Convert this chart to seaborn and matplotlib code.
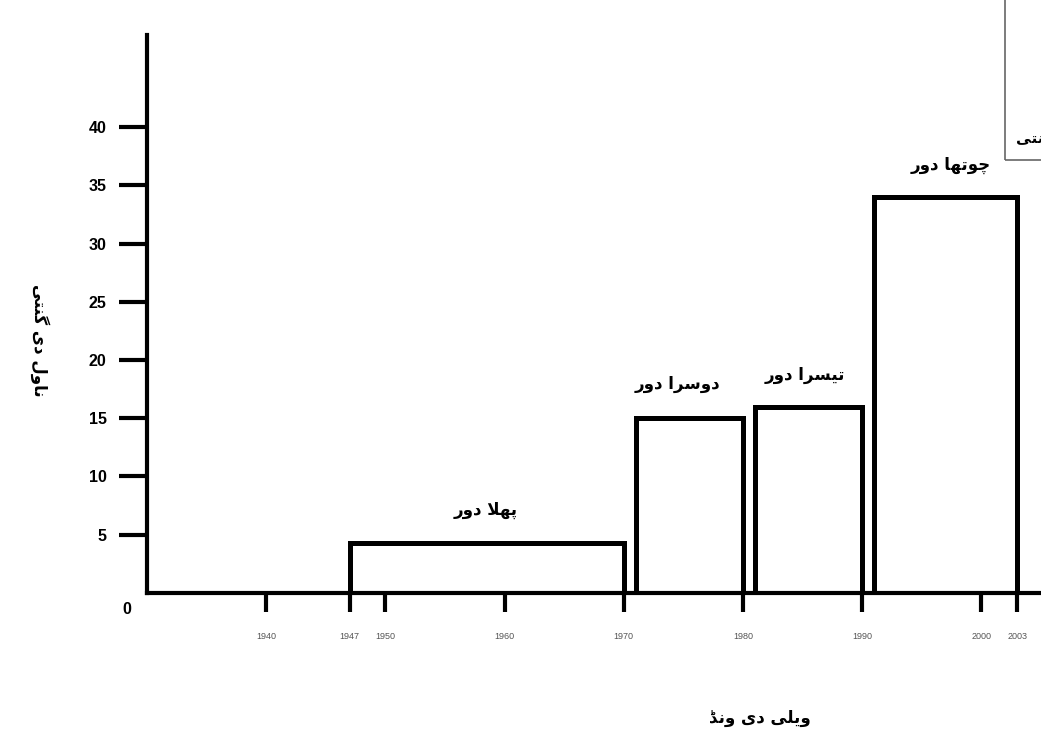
import matplotlib
matplotlib.use("Agg")
import matplotlib.pyplot as plt
import matplotlib.patches as mpatches
import seaborn as sns
import pandas as pd

# ---------------- data ----------------
period_start = [1947, 1971, 1981, 1991]
period_end = [1970, 1980, 1990, 2003]
novel_counts = [4.3, 15, 16, 34]
period_labels = ["پہلا دور", "دوسرا دور", "تیسرا دور", "چوتھا دور"]
label_x = [1958.4, 1974.5, 1985.2, 1997.4]
label_y = [7.1, 17.9, 18.7, 36.7]
x_ticks = [1940, 1947, 1950, 1960, 1970, 1980, 1990, 2000, 2003]
y_ticks = [5, 10, 15, 20, 25, 30, 35, 40]
x_title = "ویلے دی ونڈ"
y_title = "ناول دی گنتی"
legend_text = "ناول دی گنتی"

# ---------------- minimal Arabic-script shaping ----------------
# (isolated, final, initial, medial)
# No installed font has yeh barree (ے), so its final form falls back to the
# closest available glyph (final yeh).
FORMS = {
    'ا': ('\uFE8D', '\uFE8E', None, None),
    'د': ('\uFEA9', '\uFEAA', None, None),
    'ر': ('\uFEAD', '\uFEAE', None, None),
    'و': ('\uFEED', '\uFEEE', None, None),
    'ڈ': ('\uFB88', '\uFB89', None, None),
    'ے': ('\uFBFC', '\uFBFD', None, None),
    'پ': ('\uFB56', '\uFB57', '\uFB58', '\uFB59'),
    'ت': ('\uFE95', '\uFE96', '\uFE97', '\uFE98'),
    'چ': ('\uFB7A', '\uFB7B', '\uFB7C', '\uFB7D'),
    'س': ('\uFEB1', '\uFEB2', '\uFEB3', '\uFEB4'),
    'ل': ('\uFEDD', '\uFEDE', '\uFEDF', '\uFEE0'),
    'ن': ('\uFEE5', '\uFEE6', '\uFEE7', '\uFEE8'),
    'گ': ('\uFB92', '\uFB93', '\uFB94', '\uFB95'),
    'ی': ('\uFBFC', '\uFBFD', '\uFBFE', '\uFBFF'),
    'ہ': ('\uFBA6', '\uFBA7', '\uFBA8', '\uFEEC'),
    'ھ': ('\uFBAA', '\uFBAB', '\uFBAC', '\uFBAD'),
}


def shape(s):
    res = []
    i = 0
    while i < len(s):
        c = s[i]
        if c not in FORMS:
            res.append(c)
            i += 1
            continue
        prev = s[i - 1] if i > 0 else ''
        jp = prev in FORMS and FORMS[prev][2] is not None
        if c == 'ل' and i + 1 < len(s) and s[i + 1] == 'ا':
            res.append('\uFEFC' if jp else '\uFEFB')
            i += 2
            continue
        nxt = s[i + 1] if i + 1 < len(s) else ''
        iso, fin, ini, med = FORMS[c]
        jn = ini is not None and nxt in FORMS
        if jp and jn:
            g = med
        elif jp:
            g = fin
        elif jn:
            g = ini
        else:
            g = iso
        res.append(g)
        i += 1
    return ''.join(reversed(res))


# ---------------- plot ----------------
sns.set_style("ticks")
plt.rcParams['font.family'] = ['DejaVu Sans']

fig = plt.figure(figsize=(10.41, 7.43), dpi=100)
ax = fig.add_axes([0.1412, 0.2019, 0.916, 0.751])

edges = []
mids = []
for s, e in zip(period_start, period_end):
    edges += [s, e]
    mids.append((s + e) / 2)
df = pd.DataFrame({"year": mids, "count": novel_counts})
sns.histplot(data=df, x="year", weights="count", bins=edges, fill=False,
             element="bars", color="black", linewidth=3.6, ax=ax)
for p in ax.patches:
    p.set_edgecolor("black")

ax.set_xlim(1930, 2010)
ax.set_ylim(0, 47.9)

for sp in ["top", "right"]:
    ax.spines[sp].set_visible(False)
for sp in ["left", "bottom"]:
    ax.spines[sp].set_linewidth(3)
    ax.spines[sp].set_color("black")
    ax.spines[sp].set_zorder(5)

narrow = ["Liberation Sans Narrow", "Liberation Sans", "DejaVu Sans"]
ax.set_xticks(x_ticks)
ax.set_xticklabels([str(t) for t in x_ticks], fontsize=6.5, color="#555555",
                   family=narrow)
ax.tick_params(axis="x", direction="out", length=14, width=3, pad=14, color="black")

ax.set_yticks(y_ticks)
ax.set_yticklabels([str(t) for t in y_ticks], fontsize=11.5, fontweight="bold",
                   color="black", family=narrow)
ax.tick_params(axis="y", direction="out", length=20, width=3, pad=9, color="black")

ax.text(-0.021, -0.03, "0", transform=ax.transAxes, ha="center", va="center",
        fontsize=11.5, fontweight="bold", color="black", family=narrow)

ax.set_xlabel("")
ax.set_ylabel("")

for lx, ly, lab in zip(label_x, label_y, period_labels):
    ax.text(lx, ly, shape(lab), ha="center", va="center", fontsize=12,
            fontweight="bold", color="black", family=["DejaVu Sans"])

fig.text(760 / 1041, 1 - 718 / 743, shape(x_title), ha="center", va="center",
         fontsize=12, fontweight="bold", color="black", family=["DejaVu Sans"])
fig.text(40 / 1041, 1 - 340 / 743, shape(y_title), ha="center", va="center",
         rotation=-90, fontsize=12, fontweight="bold", color="black",
         family=["DejaVu Sans"])

# partial legend box at top right (cut by the image edge, as in the reference)
rect = mpatches.Rectangle((1005 / 1041, 1 - 160 / 743), 0.2, 0.3,
                          transform=fig.transFigure, fill=False,
                          edgecolor="#666666", linewidth=1.2)
fig.patches.append(rect)
fig.text(1016 / 1041, 1 - 138 / 743, shape(legend_text), ha="left", va="center",
         fontsize=11, fontweight="bold", color="black", family=["DejaVu Sans"])

fig.savefig("out.png", dpi=100)
